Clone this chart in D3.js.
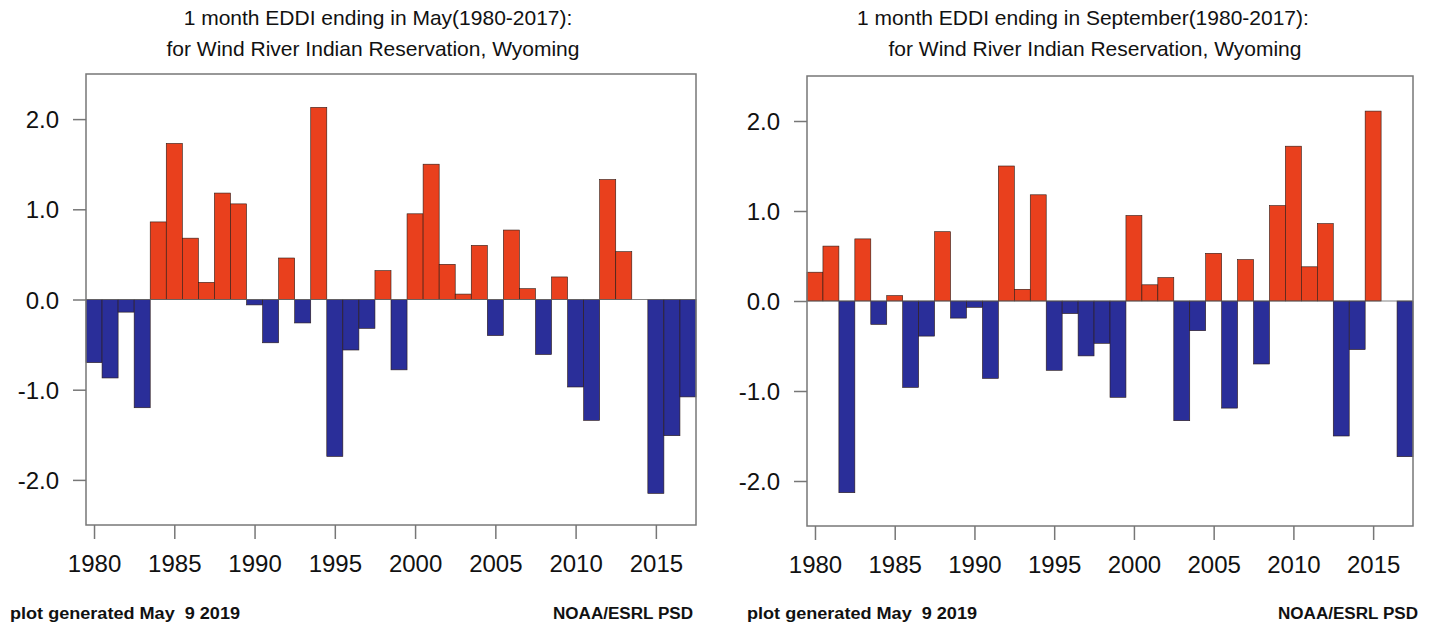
<!DOCTYPE html>
<html>
<head>
<meta charset="utf-8">
<script src="https://cdn.jsdelivr.net/npm/d3@7"></script>
<style>
  body { margin: 0; background: #fff; }
  text { font-family: "Liberation Sans", Arial, sans-serif; fill: #111; }
</style>
</head>
<body>
<div id="chart"></div>
<script>
const WIDTH = 1429;
const HEIGHT = 627;

// years 1980-2017
var YEARS = d3.range(1980, 2018);

// EDDI values
var MAY_VALUES = [
  -0.70, -0.87, -0.14, -1.20, 0.86, 1.73, 0.68, 0.19, 1.18, 1.06,
  -0.06, -0.48, 0.46, -0.26, 2.13, -1.74, -0.56, -0.32, 0.32, -0.78,
  0.95, 1.50, 0.39, 0.06, 0.60, -0.40, 0.77, 0.12, -0.61, 0.25,
  -0.97, -1.34, 1.33, 0.53, 0.00, -2.15, -1.51, -1.08
];
var SEP_VALUES = [
  0.32, 0.61, -2.13, 0.69, -0.26, 0.06, -0.96, -0.39, 0.77, -0.19,
  -0.07, -0.86, 1.50, 0.13, 1.18, -0.77, -0.14, -0.61, -0.47, -1.07,
  0.95, 0.18, 0.26, -1.33, -0.33, 0.53, -1.19, 0.46, -0.70, 1.06,
  1.72, 0.38, 0.86, -1.50, -0.54, 2.11, 0.00, -1.73
];

var Y_TICKS = [-2, -1, 0, 1, 2];
var X_TICKS = [1980, 1985, 1990, 1995, 2000, 2005, 2010, 2015];

var MAY_TITLE = ["1 month EDDI ending in May(1980-2017):", "for Wind River Indian Reservation, Wyoming"];
var SEP_TITLE = ["1 month EDDI ending in September(1980-2017):", "for Wind River Indian Reservation, Wyoming"];
var FOOT_LEFT = "plot generated May  9 2019";
var FOOT_RIGHT = "NOAA/ESRL PSD";

const RED = "#e9401d";
const BLUE = "#2a2e99";

var svg = d3
  .select("#chart")
  .append("svg")
  .attr("width", WIDTH)
  .attr("height", HEIGHT);

function drawPanel(values, title, box) {
  var g = svg.append("g");

  var xScale = d3.scaleLinear().domain([1979.5, 2017.5]).range([box.x0, box.x1]);
  var yScale = d3.scaleLinear().domain([-2.5, 2.5]).range([box.y1, box.y0]);
  var bw = xScale(1981) - xScale(1980);

  // bars
  g.append("g")
    .selectAll("rect")
    .data(YEARS.map((y, i) => [y, values[i]]))
    .enter()
    .append("rect")
    .attr("x", (d) => xScale(d[0]) - bw / 2)
    .attr("width", bw)
    .attr("y", (d) => yScale(Math.max(0, d[1])))
    .attr("height", (d) => Math.abs(yScale(d[1]) - yScale(0)))
    .attr("fill", (d) => (d[1] >= 0 ? RED : BLUE))
    .attr("stroke", "#2b1a14")
    .attr("stroke-width", 0.6);

  // zero line
  g.append("line")
    .attr("x1", box.x0)
    .attr("x2", box.x1)
    .attr("y1", yScale(0))
    .attr("y2", yScale(0))
    .attr("stroke", "#666")
    .attr("stroke-width", 0.8);

  // axes (plain hyphen minus like the original)
  var yAxis = d3.axisLeft(yScale).tickValues(Y_TICKS).tickSize(13).tickPadding(14)
    .tickFormat((d) => d.toFixed(1));
  var xAxis = d3.axisBottom(xScale).tickValues(X_TICKS).tickSize(14).tickPadding(16)
    .tickFormat((d) => String(d));

  var ya = g.append("g").attr("transform", "translate(" + box.x0 + ",0)").call(yAxis);
  var xa = g.append("g").attr("transform", "translate(0," + box.y1 + ")").call(xAxis);
  [ya, xa].forEach(function (a) {
    a.select(".domain").remove();
    a.selectAll(".tick line").attr("stroke", "#777").attr("stroke-width", 1.5);
    a.selectAll(".tick text").attr("font-size", 24).attr("font-family", "Liberation Sans, Arial, sans-serif").attr("fill", "#111");
  });
  ya.selectAll(".tick text").attr("dy", "0.36em");

  // frame
  g.append("rect")
    .attr("x", box.x0)
    .attr("y", box.y0)
    .attr("width", box.x1 - box.x0)
    .attr("height", box.y1 - box.y0)
    .attr("fill", "none")
    .attr("stroke", "#777")
    .attr("stroke-width", 1.5);

  // titles
  g.append("text").attr("x", box.t1).attr("y", 25).attr("text-anchor", "middle")
    .attr("font-size", 21).text(title[0]);
  g.append("text").attr("x", box.t2).attr("y", 56).attr("text-anchor", "middle")
    .attr("font-size", 21).text(title[1]);

  // footer
  g.append("text").attr("x", box.fl).attr("y", 619).attr("font-size", 16)
    .attr("font-weight", "bold").style("white-space", "pre")
    .attr("textLength", 230).attr("lengthAdjust", "spacingAndGlyphs").text(FOOT_LEFT);
  g.append("text").attr("x", box.fr - 140).attr("y", 619).attr("font-size", 16)
    .attr("font-weight", "bold")
    .attr("textLength", 140).attr("lengthAdjust", "spacingAndGlyphs").text(FOOT_RIGHT);
}

drawPanel(MAY_VALUES, MAY_TITLE, { x0: 86, x1: 696, y0: 74, y1: 525, t1: 378, t2: 373, fl: 10, fr: 693 });
drawPanel(SEP_VALUES, SEP_TITLE, { x0: 807, x1: 1413, y0: 76, y1: 526, t1: 1083, t2: 1095, fl: 747, fr: 1418 });
</script>
</body>
</html>
